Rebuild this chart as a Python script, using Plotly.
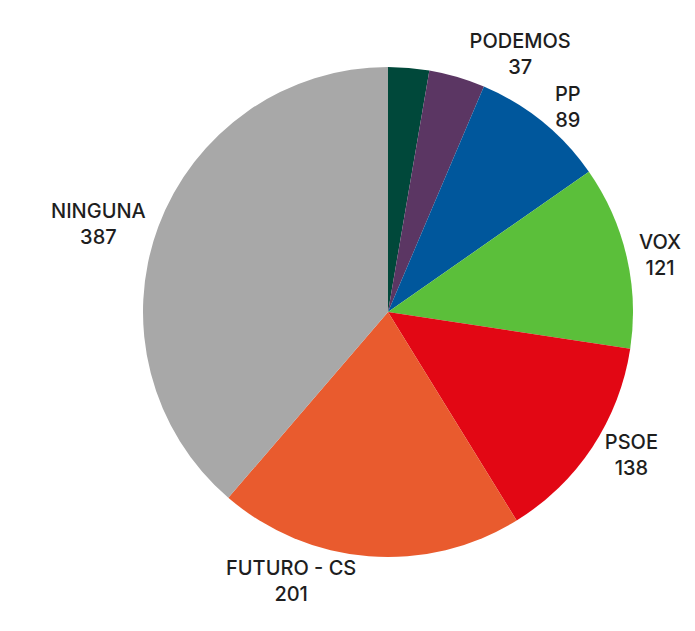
import plotly.graph_objects as go

# Datos del gráfico
partidos = ['OTROS', 'PODEMOS', 'PP', 'VOX', 'PSOE', 'FUTURO - CS', 'NINGUNA']
votos = [27, 37, 89, 121, 138, 201, 387]
etiquetas = ['', 'PODEMOS<br>37', 'PP<br>89', 'VOX<br>121', 'PSOE<br>138',
             'FUTURO - CS<br>201', 'NINGUNA<br>387']
colores = ['#00483A', '#5B3663', '#00579C', '#5BBF3A', '#E20714', '#E95B2E', '#A8A8A8']

W, H = 695, 631

fig = go.Figure(
    go.Pie(
        labels=partidos,
        values=votos,
        text=etiquetas,
        textinfo='text',
        textposition='outside',
        sort=False,
        direction='clockwise',
        rotation=0,
        marker=dict(colors=colores, line=dict(width=0)),
        outsidetextfont=dict(family='Inter', size=20, color='#1e1e1e', weight=500),
        domain=dict(x=[135 / W, 625 / W], y=[1 - 549 / H, 1 - 59 / H]),
        hoverinfo='label+value',
    )
)

fig.update_layout(
    width=W, height=H,
    margin=dict(l=0, r=0, t=0, b=0),
    paper_bgcolor='white',
    plot_bgcolor='white',
    showlegend=False,
)

fig.write_html("out.html")
